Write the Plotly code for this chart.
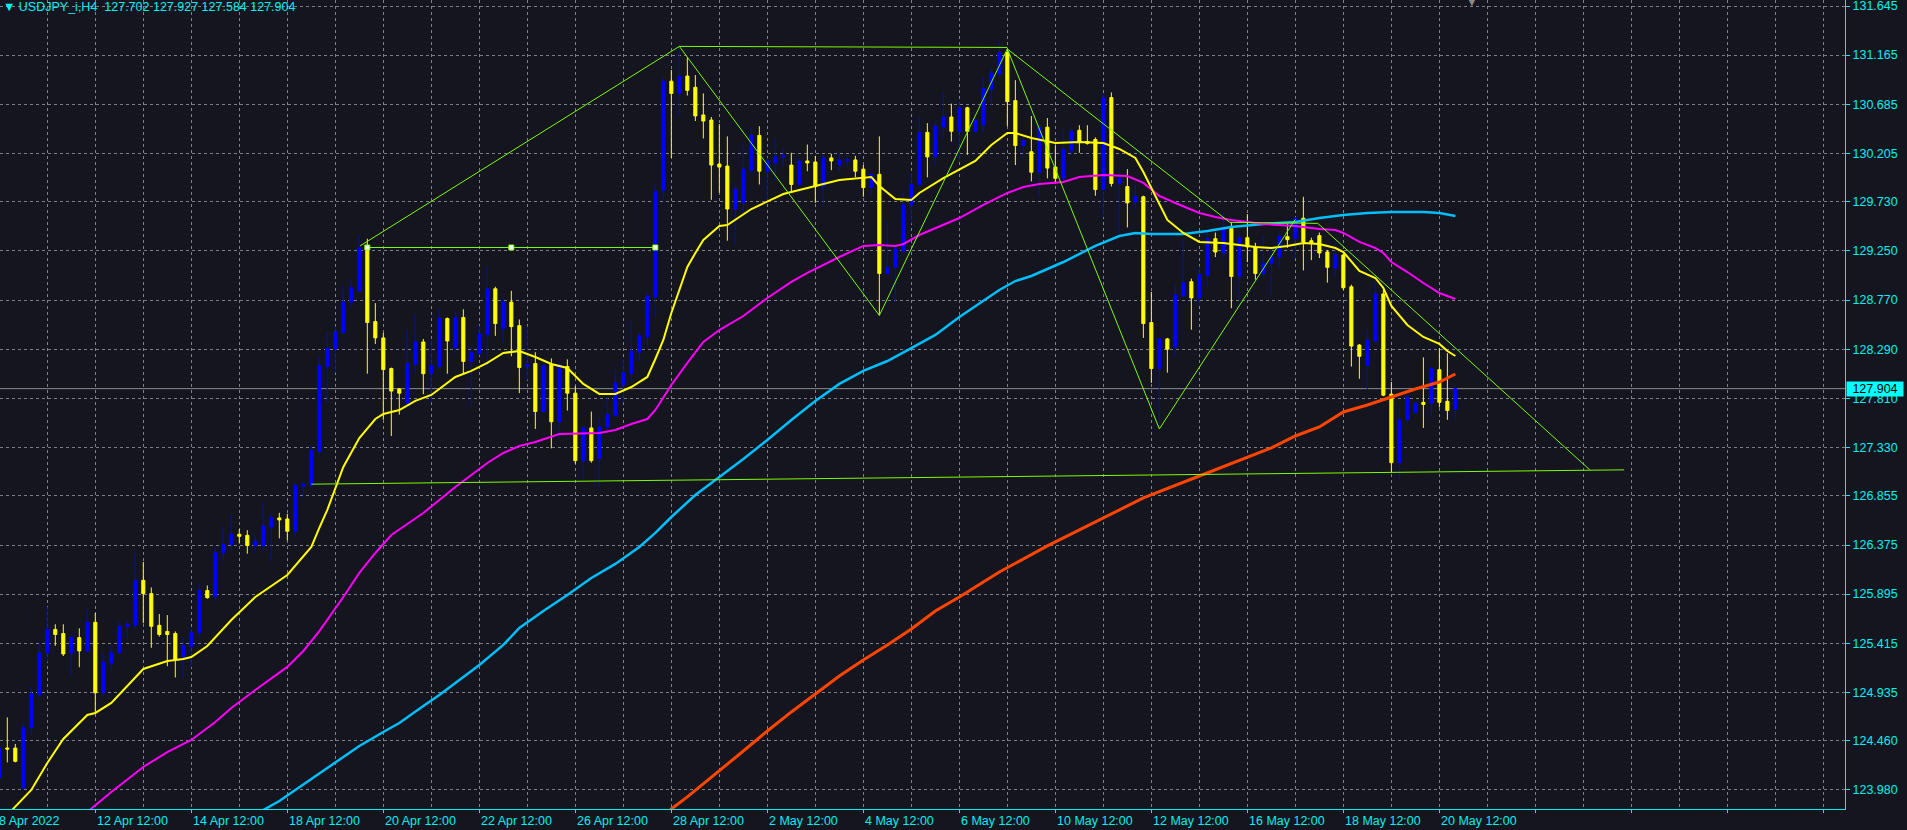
import plotly.graph_objects as go

# ===== 数据: USDJPY H4, 8 Apr 2022 12:00 起, 每根 4 小时 =====
bars = list(range(183))

opens = [
    124.10, 124.39, 124.39, 124.00, 124.59, 124.91, 125.32, 125.55, 125.51, 125.32,
    125.47, 125.34, 125.62, 124.93, 125.22, 125.32, 125.58, 125.59, 126.03, 125.90,
    125.59, 125.53, 125.51, 125.28, 125.38, 125.52, 125.93, 125.87, 126.30, 126.38,
    126.48, 126.47, 126.37, 126.37, 126.55, 126.64, 126.63, 126.51, 126.95, 126.96,
    127.29, 128.12, 128.29, 128.45, 128.75, 128.86, 129.28, 128.56, 128.40, 128.10,
    127.90, 127.76, 128.14, 128.36, 128.05, 128.12, 128.59, 128.30, 128.60, 128.17,
    128.25, 128.43, 128.88, 128.49, 128.75, 128.52, 128.12, 128.15, 127.68, 128.14,
    127.58, 128.12, 127.86, 127.20, 127.52, 127.22, 127.53, 127.64, 127.94, 128.05,
    128.26, 128.41, 128.80, 129.84, 130.91, 130.79, 130.96, 130.85, 130.58, 130.53,
    130.10, 130.08, 129.66, 129.72, 130.04, 130.38, 130.03, 130.11, 130.17, 130.09,
    129.90, 130.13, 130.12, 129.88, 130.16, 130.09, 130.13, 130.14, 130.05, 129.87,
    130.00, 129.03, 129.09, 129.25, 129.70, 129.90, 130.41, 130.17, 130.46, 130.56,
    130.42, 130.65, 130.42, 130.48, 130.83, 130.98, 131.19, 130.72, 130.28, 130.22,
    130.02, 130.46, 130.07, 129.96, 130.23, 130.43, 130.32, 130.34, 129.85, 130.75,
    129.91, 129.88, 129.73, 129.78, 128.55, 128.10, 128.39, 128.31, 128.81, 128.95,
    128.79, 129.01, 129.37, 129.23, 129.47, 129.00, 129.38, 129.29, 129.03, 129.13,
    129.19, 129.39, 129.37, 129.57, 129.35, 129.40, 129.24, 129.08, 129.21, 128.90,
    128.33, 128.13, 128.37, 128.83, 127.85, 127.18, 127.60, 127.67, 127.77, 127.76,
    128.09, 127.78, 127.702,
]
highs = [
    124.45, 124.69, 124.43, 124.64, 124.99, 125.43, 125.77, 125.60, 125.60, 125.48,
    125.56, 125.75, 125.71, 125.32, 125.39, 125.63, 125.64, 126.31, 126.21, 125.96,
    125.70, 125.69, 125.53, 125.47, 125.57, 126.00, 125.98, 126.36, 126.55, 126.68,
    126.53, 126.52, 126.47, 126.79, 126.69, 126.69, 126.68, 126.98, 126.99, 127.35,
    128.23, 128.46, 128.51, 128.91, 128.97, 129.41, 129.37, 128.74, 128.45, 128.11,
    127.91, 128.48, 128.63, 128.39, 128.39, 128.70, 128.60, 128.66, 128.68, 128.32,
    128.52, 129.10, 128.90, 128.80, 128.86, 128.58, 128.51, 128.26, 128.14, 128.20,
    128.16, 128.19, 127.93, 127.54, 127.68, 127.62, 127.82, 128.10, 128.19, 128.58,
    128.45, 128.84, 129.90, 130.95, 131.02, 131.24, 131.14, 130.97, 130.79, 130.56,
    130.49, 130.37, 129.91, 130.31, 130.46, 130.47, 130.16, 130.35, 130.25, 130.21,
    130.16, 130.29, 130.18, 130.19, 130.20, 130.21, 130.17, 130.18, 130.09, 130.01,
    130.37, 129.53, 129.29, 129.82, 130.01, 130.56, 130.50, 130.53, 130.80, 130.69,
    130.71, 130.66, 130.55, 130.95, 131.04, 131.31, 131.23, 130.92, 130.36, 130.57,
    130.50, 130.55, 130.28, 130.45, 130.46, 130.48, 130.48, 130.36, 130.79, 130.80,
    130.06, 130.05, 129.90, 129.79, 128.85, 128.40, 128.40, 128.92, 129.36, 128.98,
    129.10, 129.44, 129.43, 129.63, 129.53, 129.43, 129.61, 129.33, 129.40, 129.28,
    129.43, 129.52, 129.58, 129.78, 129.38, 129.43, 129.26, 129.35, 129.22, 128.92,
    128.34, 128.48, 128.94, 128.87, 127.97, 127.73, 127.84, 127.77, 128.21, 128.12,
    128.30, 128.25, 127.927,
]
lows = [
    124.04, 124.25, 124.25, 123.99, 124.52, 124.89, 125.23, 125.39, 125.29, 125.09,
    125.18, 125.32, 124.73, 124.90, 125.15, 125.31, 125.46, 125.55, 125.61, 125.37,
    125.48, 125.19, 125.08, 125.07, 125.18, 125.47, 125.85, 125.83, 126.22, 126.32,
    126.39, 126.29, 126.30, 126.32, 126.22, 126.44, 126.42, 126.45, 126.84, 126.94,
    127.25, 127.76, 128.06, 128.44, 128.70, 128.85, 128.05, 128.34, 127.60, 127.44,
    127.65, 127.72, 128.06, 127.85, 127.77, 128.10, 128.05, 128.25, 128.05, 127.72,
    128.23, 128.12, 128.42, 128.36, 128.22, 127.86, 127.99, 127.51, 127.67, 127.32,
    127.42, 127.69, 127.17, 127.02, 127.18, 126.93, 127.47, 127.63, 127.77, 127.97,
    128.17, 128.32, 128.60, 129.75, 130.16, 130.56, 130.77, 130.52, 130.35, 129.75,
    129.82, 129.35, 129.31, 129.62, 130.02, 129.90, 129.72, 129.94, 130.07, 129.83,
    129.89, 130.03, 129.72, 129.68, 130.04, 130.02, 130.07, 129.97, 129.78, 129.79,
    128.62, 129.02, 128.75, 129.23, 129.52, 129.88, 129.97, 130.08, 130.35, 130.32,
    130.13, 130.19, 130.40, 130.41, 130.67, 130.95, 130.47, 130.09, 130.17, 129.93,
    129.78, 129.96, 129.91, 129.94, 130.19, 130.21, 130.29, 129.79, 129.58, 129.88,
    129.43, 129.48, 129.65, 128.40, 127.96, 127.51, 128.06, 128.21, 128.80, 128.48,
    128.72, 128.91, 129.19, 129.18, 128.69, 128.77, 129.14, 128.97, 129.00, 128.81,
    129.08, 129.28, 129.18, 129.06, 129.16, 129.18, 128.94, 129.01, 128.87, 128.12,
    128.00, 127.89, 128.36, 127.83, 127.08, 127.02, 127.55, 127.66, 127.52, 127.63,
    127.72, 127.60, 127.584,
]
closes = [
    124.39, 124.38, 124.26, 124.59, 124.92, 125.32, 125.55, 125.50, 125.31, 125.47,
    125.34, 125.62, 124.93, 125.23, 125.32, 125.58, 125.60, 126.03, 125.90, 125.58,
    125.50, 125.50, 125.26, 125.39, 125.52, 125.93, 125.86, 126.30, 126.38, 126.48,
    126.46, 126.37, 126.41, 126.56, 126.64, 126.62, 126.51, 126.96, 126.97, 127.30,
    128.13, 128.30, 128.46, 128.75, 128.89, 129.28, 128.55, 128.40, 128.09, 127.88,
    127.86, 128.15, 128.36, 128.05, 128.13, 128.59, 128.37, 128.60, 128.17, 128.26,
    128.44, 128.88, 128.54, 128.75, 128.51, 128.11, 128.14, 127.68, 128.13, 127.58,
    128.14, 127.86, 127.20, 127.52, 127.20, 127.53, 127.65, 127.96, 128.06, 128.27,
    128.42, 128.81, 129.83, 130.91, 130.79, 130.96, 130.82, 130.57, 130.52, 130.09,
    130.07, 129.66, 129.85, 130.05, 130.38, 130.03, 130.13, 130.17, 130.18, 129.90,
    130.13, 130.11, 129.88, 130.16, 130.13, 130.14, 130.14, 130.03, 129.87, 130.00,
    129.03, 129.09, 129.27, 129.70, 129.90, 130.41, 130.17, 130.47, 130.56, 130.42,
    130.65, 130.42, 130.53, 130.84, 130.99, 131.19, 130.71, 130.28, 130.33, 130.02,
    130.46, 130.06, 129.96, 130.24, 130.42, 130.32, 130.30, 129.85, 130.75, 129.91,
    129.96, 129.72, 129.78, 128.54, 128.10, 128.39, 128.29, 128.82, 128.94, 128.79,
    129.02, 129.37, 129.24, 129.47, 129.00, 129.38, 129.29, 129.03, 129.13, 129.19,
    129.39, 129.36, 129.57, 129.34, 129.33, 129.23, 129.09, 129.21, 128.89, 128.32,
    128.22, 128.38, 128.83, 127.84, 127.18, 127.60, 127.82, 127.76, 127.75, 128.10,
    127.77, 127.69, 127.904,
]

# 均线 (从图上读取的点)
ma_yellow_x = [1, 4, 6, 8, 11, 12, 14, 17, 18, 21, 23, 24, 26, 29, 32, 36, 39, 40, 41, 43,
               45, 47, 48, 50, 52, 54, 57, 59, 61, 63, 65, 67, 69, 71, 72, 73, 75, 77, 79, 81,
               82, 83, 84, 85, 86, 87, 88, 90, 91, 94, 98, 102, 105, 109, 110, 112, 114, 115, 118, 122,
               124, 126, 127, 129, 132, 135, 138, 140, 142, 143, 145, 146, 148, 150, 153, 157, 159, 161, 163, 165,
               167, 168, 170, 172, 173, 174, 176, 178, 180, 181, 182]
ma_yellow_y = [123.736, 123.980, 124.244, 124.479, 124.713, 124.733, 124.831, 125.075, 125.163, 125.241,
               125.261, 125.280, 125.388, 125.642, 125.867, 126.082, 126.356, 126.542, 126.718, 127.138,
               127.421, 127.607, 127.656, 127.695, 127.784, 127.842, 128.018, 128.077, 128.155, 128.253,
               128.272, 128.213, 128.145, 128.106, 128.028, 127.950, 127.852, 127.852, 127.920, 128.018,
               128.194, 128.380, 128.644, 128.868, 129.093, 129.230, 129.357, 129.494, 129.504, 129.660,
               129.807, 129.885, 129.944, 129.973, 129.885, 129.758, 129.748, 129.817, 129.963, 130.130,
               130.286, 130.403, 130.403, 130.355, 130.306, 130.315, 130.306, 130.247, 130.159, 130.022,
               129.719, 129.553, 129.426, 129.338, 129.328, 129.289, 129.279, 129.299, 129.328, 129.318,
               129.279, 129.240, 129.054, 128.986, 128.888, 128.712, 128.526, 128.409, 128.341, 128.272,
               128.223]

ma_magenta_x = [10, 11, 14, 18, 21, 24, 27, 29, 32, 36, 38, 40, 43, 45, 47, 49, 51, 53, 55, 57,
                59, 61, 63, 65, 67, 70, 75, 77, 79, 81, 82, 84, 86, 88, 90, 93, 96, 99, 101, 104,
                105, 108, 110, 112, 113, 115, 120, 123, 126, 128, 130, 133, 135, 138, 141, 143, 145, 147, 150, 152,
                154, 158, 162, 165, 167, 168, 170, 172, 173, 174, 176, 178, 180, 182]
ma_magenta_y = [123.680, 123.765, 123.960, 124.205, 124.351, 124.469, 124.645, 124.782, 124.958, 125.183,
                125.339, 125.534, 125.867, 126.102, 126.297, 126.473, 126.581, 126.688, 126.816, 126.943,
                127.060, 127.177, 127.275, 127.343, 127.382, 127.461, 127.470, 127.500, 127.558, 127.607,
                127.695, 127.940, 128.155, 128.360, 128.477, 128.614, 128.790, 128.947, 129.035, 129.152,
                129.191, 129.299, 129.308, 129.299, 129.318, 129.406, 129.572, 129.700, 129.817, 129.875,
                129.905, 129.924, 129.973, 129.993, 129.983, 129.915, 129.788, 129.719, 129.621, 129.582,
                129.553, 129.514, 129.494, 129.465, 129.455, 129.426, 129.338, 129.279, 129.230, 129.142,
                129.044, 128.937, 128.839, 128.780]

ma_cyan_x = [32, 33, 35, 37, 39, 42, 45, 48, 50, 53, 55, 58, 60, 63, 65, 68, 71, 74, 77, 80,
             82, 84, 87, 90, 93, 96, 99, 102, 105, 108, 111, 114, 117, 120, 122, 125, 127, 129, 133, 137,
             140, 142, 144, 148, 151, 154, 158, 162, 165, 168, 171, 174, 178, 180, 182]
ma_cyan_y = [123.700, 123.784, 123.872, 123.980, 124.088, 124.244, 124.410, 124.547, 124.635, 124.801,
             124.909, 125.085, 125.202, 125.398, 125.564, 125.730, 125.887, 126.053, 126.190, 126.356,
             126.493, 126.649, 126.864, 127.040, 127.216, 127.402, 127.598, 127.783, 127.950, 128.077,
             128.174, 128.301, 128.429, 128.605, 128.712, 128.868, 128.956, 129.005, 129.142, 129.299,
             129.396, 129.426, 129.416, 129.416, 129.445, 129.484, 129.514, 129.533, 129.572, 129.602,
             129.621, 129.631, 129.631, 129.621, 129.592]

ma_orange_x = [83, 84, 86, 88, 90, 93, 96, 99, 102, 105, 108, 111, 114, 117, 120, 123, 125, 131, 137, 143,
               150, 156, 159, 162, 165, 168, 171, 174, 177, 180, 182]
ma_orange_y = [123.726, 123.794, 123.912, 124.039, 124.166, 124.361, 124.557, 124.743, 124.918, 125.094,
               125.251, 125.397, 125.554, 125.730, 125.867, 126.014, 126.111, 126.366, 126.600, 126.835,
               127.050, 127.236, 127.324, 127.441, 127.529, 127.676, 127.744, 127.822, 127.900, 127.969,
               128.047]

# 画线对象 (趋势线 / 折线)
rise_x, rise_y = [45.1, 85.0], [129.30, 131.25]
top_x, top_y = [85.0, 126.0], [131.25, 131.24]
zigzag_x = [85.0, 110.0, 126.0, 145.0, 162.0]
zigzag_y = [131.25, 128.62, 131.225, 127.51, 129.56]
down_x = [126.0, 153.8, 164.8, 198.8]
down_y = [131.225, 129.53, 129.52, 127.11]
base_x, base_y = [39.0, 203.1], [126.97, 127.11]
shelf_x, shelf_y = [46, 64, 82], [129.284, 129.284, 129.284]

last_price = 127.904
title_text = "▼ USDJPY_i,H4\u00a0\u00a0127.702 127.927 127.584 127.904"

y_ticks = [123.980, 124.460, 124.935, 125.415, 125.895, 126.375, 126.855, 127.330, 127.810,
           128.290, 128.770, 129.250, 129.730, 130.205, 130.685, 131.165, 131.645]
x_label_pos = [12, 24, 36, 48, 60, 72, 84, 96, 108, 120, 132, 144, 156, 168, 180]
x_label_text = ["12 Apr 12:00", "14 Apr 12:00", "18 Apr 12:00", "20 Apr 12:00", "22 Apr 12:00",
                "26 Apr 12:00", "28 Apr 12:00", "2 May 12:00", "4 May 12:00", "6 May 12:00",
                "10 May 12:00", "12 May 12:00", "16 May 12:00", "18 May 12:00", "20 May 12:00"]
first_label = "8 Apr 2022"

# ===== 样式 =====
BG = '#14151f'
GRID = '#7b808a'
AXIS = '#00f0f0'
BULL = '#0000ff'
BEAR = '#ffff00'
LIME = '#7cfc00'
FONT = 'Liberation Sans'

fig = go.Figure()

fig.add_trace(go.Candlestick(
    x=bars, open=opens, high=highs, low=lows, close=closes,
    increasing=dict(line=dict(color=BULL, width=1), fillcolor=BULL),
    decreasing=dict(line=dict(color=BEAR, width=1), fillcolor=BEAR),
    whiskerwidth=0, hoverinfo='skip', showlegend=False
))

for xs, ys, color, width in [
    (ma_orange_x, ma_orange_y, '#ff4500', 3),
    (ma_cyan_x, ma_cyan_y, '#00bfff', 2.5),
    (ma_magenta_x, ma_magenta_y, '#ff00ff', 2),
    (ma_yellow_x, ma_yellow_y, '#ffff00', 2),
]:
    fig.add_trace(go.Scatter(x=xs, y=ys, mode='lines', line=dict(color=color, width=width),
                             hoverinfo='skip', showlegend=False))

for xs, ys in [(rise_x, rise_y), (top_x, top_y), (zigzag_x, zigzag_y),
               (down_x, down_y), (base_x, base_y), (shelf_x, shelf_y)]:
    fig.add_trace(go.Scatter(x=xs, y=ys, mode='lines', line=dict(color=LIME, width=1),
                             hoverinfo='skip', showlegend=False))

fig.add_trace(go.Scatter(x=shelf_x, y=shelf_y, mode='markers',
                         marker=dict(symbol='square', size=5, color='white',
                                     line=dict(color=LIME, width=1)),
                         hoverinfo='skip', showlegend=False))

# 当前价格线
fig.add_shape(type='line', xref='paper', x0=0, x1=1, yref='y', y0=last_price, y1=last_price,
              line=dict(color='#8c8c8c', width=1), layer='below')

annotations = []
for pos, txt in zip(x_label_pos, x_label_text):
    annotations.append(dict(x=pos - 0.1, xref='x', y=0, yref='paper', text=txt, showarrow=False,
                            xanchor='left', yanchor='top', yshift=-3,
                            font=dict(family=FONT, size=12.5, color=AXIS)))
annotations.append(dict(x=-0.0018, xref='paper', y=0, yref='paper', text=first_label, showarrow=False,
                        xanchor='left', yanchor='top', yshift=-3,
                        font=dict(family=FONT, size=12.5, color=AXIS)))
annotations.append(dict(x=0, xref='paper', y=1, yref='paper', text=title_text, showarrow=False,
                        xanchor='left', yanchor='top', xshift=1, yshift=2,
                        font=dict(family=FONT, size=12.5, color=AXIS)))
annotations.append(dict(x=1, xref='paper', y=last_price, yref='y', text=f'{last_price:.3f}',
                        showarrow=False, xanchor='left', yanchor='middle', xshift=1,
                        bgcolor='#00ffff', borderpad=1, width=54, height=12,
                        font=dict(family=FONT, size=12.5, color='#000000')))
annotations.append(dict(x=0.798, xref='paper', y=1, yref='paper', text='▼', showarrow=False,
                        xanchor='center', yanchor='top', yshift=6,
                        font=dict(family='DejaVu Sans', size=10, color='#8a8a8a')))

fig.update_layout(
    width=1907, height=830,
    margin=dict(l=0, r=62, t=0, b=21),
    paper_bgcolor=BG, plot_bgcolor=BG,
    boxgap=0.45,
    hovermode=False,
    showlegend=False,
    annotations=annotations,
    xaxis=dict(
        range=[0.0875, 230.7],
        tickvals=list(range(0, 231, 12)),
        showticklabels=False,
        ticks='outside', ticklen=3, tickcolor=AXIS,
        showgrid=True, gridcolor=GRID, griddash='3px,3px', gridwidth=1,
        minor=dict(tick0=0, dtick=6, showgrid=True, gridcolor=GRID, griddash='3px,3px', ticks=''),
        showline=True, linecolor=AXIS, linewidth=1,
        zeroline=False, rangeslider=dict(visible=False), fixedrange=True,
    ),
    yaxis=dict(
        range=[123.794, 131.7037],
        side='right',
        tickvals=y_ticks, ticktext=[f'{v:.3f}' for v in y_ticks],
        tickfont=dict(family=FONT, size=12.5, color=AXIS),
        ticklabeloverflow='allow',
        ticks='outside', ticklen=4, tickcolor=AXIS,
        showgrid=True, gridcolor=GRID, griddash='3px,3px', gridwidth=1,
        showline=True, linecolor=AXIS, linewidth=1,
        zeroline=False, fixedrange=True,
    ),
)

fig.write_html("out.html", config={'displayModeBar': False},
               post_script="document.body.style.margin='0';document.body.style.overflow='hidden';")
